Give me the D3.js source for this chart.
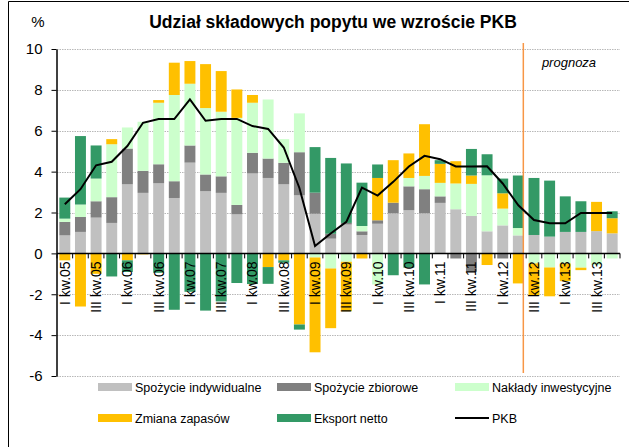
<!DOCTYPE html>
<html>
<head>
<meta charset="utf-8">
<script src="https://cdn.jsdelivr.net/npm/d3@7"></script>
<style>
  body { margin: 0; background: #fff; }
  svg text { font-family: "Liberation Sans", Arial, sans-serif; fill: #000; }
</style>
</head>
<body>
<svg id="chart" width="629" height="447"></svg>
<script>
// -----------------------------
// data
// -----------------------------

const quarters = [
  "I kw.05", "II kw.05", "III kw.05", "IV kw.05",
  "I kw.06", "II kw.06", "III kw.06", "IV kw.06",
  "I kw.07", "II kw.07", "III kw.07", "IV kw.07",
  "I kw.08", "II kw.08", "III kw.08", "IV kw.08",
  "I kw.09", "II kw.09", "III kw.09", "IV kw.09",
  "I kw.10", "II kw.10", "III kw.10", "IV kw.10",
  "I kw.11", "II kw.11", "III kw.11", "IV kw.11",
  "I kw.12", "II kw.12", "III kw.12", "IV kw.12",
  "I kw.13", "II kw.13", "III kw.13", "IV kw.13"
]

const spozycieIndywidualne = [0.88, 1.05, 1.75, 1.49, 3.38, 2.96, 3.43, 2.71, 4.44, 3.04, 2.96, 1.91,
  3.91, 3.69, 3.38, 2.84, 1.94, 0.72, 1.41, 0.90, 1.45, 1.96, 2.11, 1.96,
  2.47, 2.16, 1.83, 1.08, 1.37, 0.88, 0.90, 0.82, 1.05, 1.05, 1.09, 0.98]
const spozycieZbiorowe = [0.66, 0.73, 0.80, 1.26, 1.75, 1.08, 0.93, 0.82, 0.84, 0.82, 0.81, 0.46,
  1.01, 0.95, 1.05, 2.11, 1.03, 0.24, 0.08, 0.18, 0.17, 0.52, 1.17, 1.18,
  0.32, -0.25, -0.90, 0, -0.25, 0, 0, 0, 0, 0, 0, 0]
const nakladyInwestycyjne = [0.16, 0.61, 1.11, 2.59, 1.03, 2.40, 3.01, 4.22, 3.02, 3.25, 3.16, 4.26,
  2.45, 2.89, 1.16, 1.90, -0.20, -0.74, -0.41, 0.26, -1.52, 0, 0.41, 0.65,
  0.66, 1.26, 1.57, 2.74, 0.82, 0.36, -0.49, -0.69, -0.49, -0.70, -0.57, -0.25]
const zmianaZapasow = [-0.34, -2.60, -1.00, 0.25, -0.34, -0.05, 0.13, 1.58, 1.11, 2.15, 1.99, 1.39,
  0.38, -0.67, -0.34, -3.48, -4.64, -2.92, -2.42, -0.25, 2.07, 2.08, 1.20, 2.53,
  0.93, 1.09, 0.41, -0.57, 0.75, -1.47, -1.57, -1.41, -0.87, -0.12, 1.43, 0.74]
const eksportNetto = [1.03, 3.35, 1.62, -1.13, -0.57, 0, -0.95, -2.76, -1.88, -2.80, -2.35, -1.45,
  -1.50, -0.82, -0.12, -0.25, 2.23, 3.71, 2.91, 2.12, 0.66, -1.07, -0.70, -1.52,
  0.18, 0, 1.30, 1.03, 0.72, 2.57, 2.79, 2.74, 1.74, 1.50, 0, 0.34]
const pkb = [2.40, 3.14, 4.31, 4.48, 5.25, 6.39, 6.57, 6.57, 7.53, 6.49, 6.57, 6.58,
  6.23, 6.09, 5.18, 3.20, 0.36, 0.97, 1.54, 3.22, 2.83, 3.50, 4.25, 4.77,
  4.61, 4.25, 4.25, 4.26, 3.42, 2.35, 1.63, 1.47, 1.47, 1.98, 1.98, 1.98]

const yTicks = [-6, -4, -2, 0, 2, 4, 6, 8, 10]
const forecastStart = "III kw.12" // prognoza od tego kwartału

const series = [
  {key: "ind", name: "Spożycie indywidualne", values: spozycieIndywidualne, colour: "#C0C0C0"},
  {key: "zb", name: "Spożycie zbiorowe", values: spozycieZbiorowe, colour: "#808080"},
  {key: "nak", name: "Nakłady inwestycyjne", values: nakladyInwestycyjne, colour: "#CCFFCC"},
  {key: "zap", name: "Zmiana zapasów", values: zmianaZapasow, colour: "#FFC000"},
  {key: "eks", name: "Eksport netto", values: eksportNetto, colour: "#339966"}
]

// -----------------------------
// layout
// -----------------------------

const svg = d3.select('#chart')
const margin = {left: 57, right: 9, top: 49, bottom: 71}
const W = 629, H = 447

const x = d3.scaleBand()
  .domain(quarters)
  .range([margin.left, W - margin.right])
  .paddingInner(0.3)
  .paddingOuter(0.15)

const y = d3.scaleLinear()
  .domain([-6, 10])
  .range([H - margin.bottom, margin.top])

// frame
svg.append('line').attr('x1', 8.5).attr('x2', 8.5).attr('y1', 1.5).attr('y2', H)
  .attr('stroke', '#000').attr('stroke-width', 1)
svg.append('line').attr('x1', 8.5).attr('x2', W).attr('y1', 1.5).attr('y2', 1.5)
  .attr('stroke', '#000').attr('stroke-width', 1)

// gridlines
svg.append('g')
  .selectAll('line.grid')
  .data(yTicks.filter(d => d !== 0))
  .enter()
  .append('line')
  .attr('class', 'grid')
  .attr('x1', margin.left).attr('x2', W - margin.right)
  .attr('y1', d => Math.round(y(d)) + 0.5).attr('y2', d => Math.round(y(d)) + 0.5)
  .attr('stroke', '#b8b8b8')
  .attr('stroke-dasharray', '1.5,1')

// -----------------------------
// stacked bars
// -----------------------------

const rows = quarters.map((q, i) => {
  const r = {q: q}
  series.forEach(s => r[s.key] = s.values[i])
  return r
})

const stacked = d3.stack()
  .keys(series.map(s => s.key))
  .offset(d3.stackOffsetDiverging)(rows)

svg.append('g')
  .selectAll('g.layer')
  .data(stacked)
  .enter()
  .append('g')
  .attr('class', 'layer')
  .attr('fill', (d, i) => series[i].colour)
  .selectAll('rect')
  .data(d => d)
  .enter()
  .append('rect')
  .attr('x', d => x(d.data.q))
  .attr('width', x.bandwidth())
  .attr('y', d => y(Math.max(d[0], d[1])))
  .attr('height', d => Math.abs(y(d[0]) - y(d[1])))

// forecast divider
const fx = x(forecastStart) - x.step() * x.paddingInner() - 0.5
svg.append('line')
  .attr('x1', fx).attr('x2', fx)
  .attr('y1', 43).attr('y2', 373)
  .attr('stroke', '#F79646')
  .attr('stroke-width', 1.5)

svg.append('text')
  .attr('x', 569).attr('y', 67)
  .attr('text-anchor', 'middle')
  .attr('font-size', 13)
  .attr('font-style', 'italic')
  .text('prognoza')

// -----------------------------
// axes
// -----------------------------

const yAxis = d3.axisLeft(y)
  .tickValues(yTicks)
  .tickFormat(d3.format('d'))
  .tickSizeInner(5)
  .tickSizeOuter(0)
  .tickPadding(9)

const gy = svg.append('g')
  .attr('transform', 'translate(' + (margin.left - 0.5) + ',0)')
  .call(yAxis)
gy.select('.domain').attr('stroke', '#000').attr('stroke-width', 1.5)
gy.selectAll('text').attr('font-size', 15).attr('font-family', '"Liberation Sans", Arial, sans-serif')
gy.selectAll('.tick text').text(d => d < 0 ? '-' + Math.abs(d) : d)

// x axis at zero
const y0 = y(0)
svg.append('line')
  .attr('x1', margin.left).attr('x2', W - margin.right)
  .attr('y1', y0).attr('y2', y0)
  .attr('stroke', '#000').attr('stroke-width', 1.5)

const bounds = quarters.map(q => x(q) - x.step() * x.paddingInner() / 2)
bounds.push(W - margin.right)
svg.append('g')
  .selectAll('line.xtick')
  .data(bounds)
  .enter()
  .append('line')
  .attr('x1', d => d).attr('x2', d => d)
  .attr('y1', y0).attr('y2', y0 + 5)
  .attr('stroke', '#000')

svg.append('g')
  .selectAll('text.xlab')
  .data(quarters.filter((q, i) => i % 2 === 0))
  .enter()
  .append('text')
  .attr('class', 'xlab')
  .attr('transform', d => 'translate(' + (x(d) + x.bandwidth() / 2 + 5) + ',' + (y0 + 8) + ') rotate(-90)')
  .attr('text-anchor', 'end')
  .attr('font-size', 14)
  .text(d => d)

// PKB line
const line = d3.line()
  .x((d, i) => x(quarters[i]) + x.bandwidth() / 2)
  .y(d => y(d))

svg.append('path')
  .datum(pkb)
  .attr('fill', 'none')
  .attr('stroke', '#000')
  .attr('stroke-width', 2)
  .attr('d', line)

// -----------------------------
// titles
// -----------------------------

svg.append('text')
  .attr('x', 333).attr('y', 28)
  .attr('text-anchor', 'middle')
  .attr('font-size', 17.5)
  .attr('font-weight', 'bold')
  .text('Udział składowych popytu we wzroście PKB')

svg.append('text')
  .attr('x', 38).attr('y', 27)
  .attr('text-anchor', 'middle')
  .attr('font-size', 15)
  .text('%')

// -----------------------------
// legend
// -----------------------------

const legendItems = series.map(s => ({name: s.name, colour: s.colour, type: 'bar'}))
  .concat([{name: 'PKB', colour: '#000', type: 'line'}])
const legendX = [98, 277, 455]
const legendY = [387, 418]

const leg = svg.append('g')
  .selectAll('g.leg')
  .data(legendItems)
  .enter()
  .append('g')
  .attr('transform', (d, i) => 'translate(' + legendX[i % 3] + ',' + legendY[Math.floor(i / 3)] + ')')

leg.filter(d => d.type === 'bar')
  .append('rect')
  .attr('x', 0).attr('y', -4)
  .attr('width', 34).attr('height', 8)
  .attr('fill', d => d.colour)

leg.filter(d => d.type === 'line')
  .append('line')
  .attr('x1', 0).attr('x2', 34)
  .attr('stroke', '#000').attr('stroke-width', 2)

leg.append('text')
  .attr('x', 37).attr('y', 5)
  .attr('font-size', 12.5)
  .text(d => d.name)
</script>
</body>
</html>
